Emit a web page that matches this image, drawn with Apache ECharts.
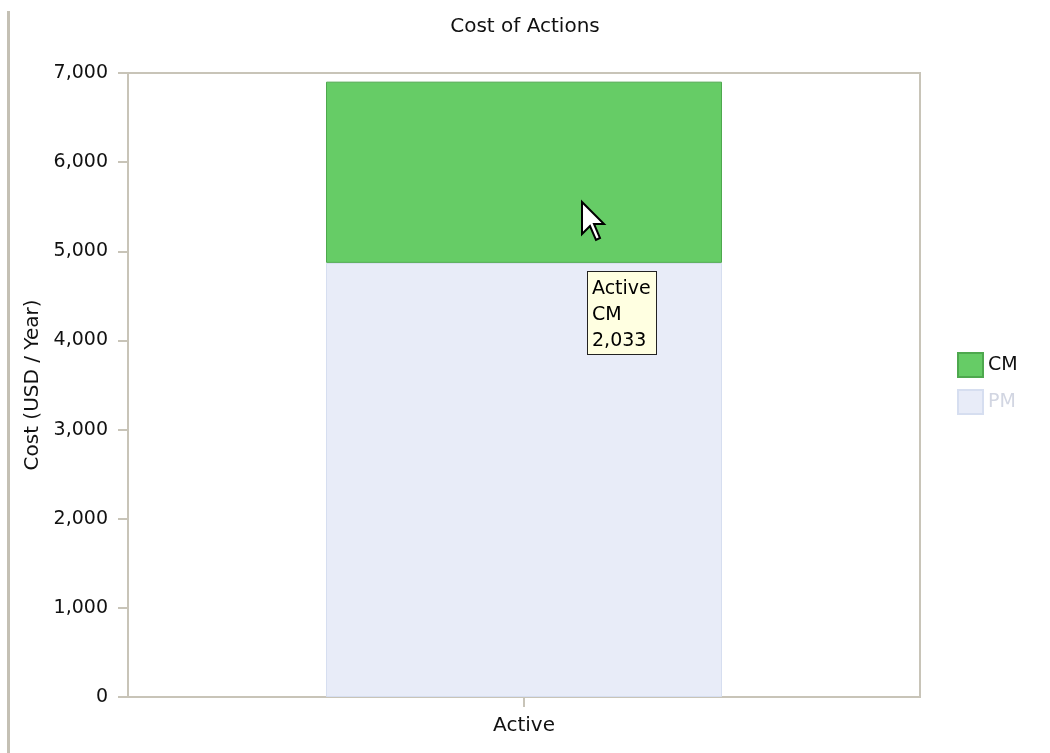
<!DOCTYPE html>
<html>
<head>
<meta charset="utf-8">
<script src="https://cdn.jsdelivr.net/npm/echarts@6/dist/echarts.min.js"></script>
<style>
  html, body { margin: 0; padding: 0; background: #fff; }
  #chart { width: 1050px; height: 753px; }
</style>
</head>
<body>
<div id="chart"></div>
<script>
// Cost of actions, stacked by maintenance type
const categories = ['Active'];
const pmValues = [4870];
const cmValues = [2033];
const yTicks = { min: 0, max: 7000, interval: 1000 };

const FONT = 'DejaVu Sans';
const AXIS_COLOR = '#c8c4b8';

const chart = echarts.init(document.getElementById('chart'), null, { renderer: 'canvas' });

const fmt = v => Number(v).toLocaleString('en-US');

chart.setOption({
  animation: false,
  backgroundColor: '#fff',
  title: {
    text: 'Cost of Actions',
    left: 'center',
    top: 12,
    textStyle: { fontFamily: FONT, fontSize: 20, fontWeight: 'normal', color: '#111' }
  },
  grid: {
    left: 128, right: 130, top: 73, bottom: 56,
    show: true, borderColor: AXIS_COLOR, borderWidth: 2, backgroundColor: '#fff'
  },
  legend: {
    orient: 'vertical',
    left: 952, top: 347,
    itemWidth: 25, itemHeight: 24, itemGap: 11,
    icon: 'rect',
    data: [
      { name: 'CM', textStyle: { color: '#111' } },
      { name: 'PM', textStyle: { color: '#d2d6e2' } }
    ],
    textStyle: { fontFamily: FONT, fontSize: 19 },
    selectedMode: false
  },
  tooltip: {
    trigger: 'item',
    triggerOn: 'none',
    alwaysShowContent: true,
    transitionDuration: 0,
    position: [587, 271],
    backgroundColor: '#ffffe1',
    borderColor: '#222',
    borderWidth: 1,
    borderRadius: 0,
    padding: [2, 5, 2, 4],
    extraCssText: 'box-shadow:none;border-radius:0;line-height:26px;',
    textStyle: { fontFamily: FONT, fontSize: 19, color: '#000' },
    formatter: p => p.name + '<br/>' + p.seriesName + '<br/>' + fmt(p.value)
  },
  xAxis: {
    type: 'category',
    data: categories,
    axisLine: { show: true, lineStyle: { color: AXIS_COLOR, width: 2 } },
    axisTick: { show: true, alignWithLabel: true, length: 10, lineStyle: { color: AXIS_COLOR, width: 2 } },
    axisLabel: { fontFamily: FONT, fontSize: 20, color: '#111', margin: 19 }
  },
  yAxis: {
    type: 'value',
    min: yTicks.min, max: yTicks.max, interval: yTicks.interval,
    name: 'Cost (USD / Year)',
    nameLocation: 'middle',
    nameGap: 84,
    nameTextStyle: { fontFamily: FONT, fontSize: 20, color: '#111' },
    axisLine: { show: true, lineStyle: { color: AXIS_COLOR, width: 2 } },
    axisTick: { show: true, length: 10, lineStyle: { color: AXIS_COLOR, width: 2 } },
    splitLine: { show: false },
    axisLabel: { fontFamily: FONT, fontSize: 19, color: '#111', margin: 20, formatter: fmt }
  },
  series: [
    {
      name: 'PM', type: 'bar', stack: 'cost', barWidth: '50%',
      data: pmValues,
      itemStyle: { color: '#e8ecf8', borderColor: '#d6def0', borderWidth: 1 }
    },
    {
      name: 'CM', type: 'bar', stack: 'cost', barWidth: '50%',
      data: cmValues,
      itemStyle: { color: '#66cc66', borderColor: '#4ea84e', borderWidth: 1 }
    }
  ],
  graphic: [
    // frame line on the left edge
    { type: 'rect', shape: { x: 7, y: 11, width: 3, height: 742 }, style: { fill: '#c4c0b4' }, silent: true },
    // mouse pointer over the CM segment
    {
      type: 'polygon', z: 100, silent: true,
      x: 582, y: 202,
      shape: { points: [[0, 0], [0, 32], [8, 24], [14, 38], [18, 36], [12, 22], [22, 22]] },
      style: { fill: '#fff', stroke: '#000', lineWidth: 2, lineJoin: 'miter' }
    }
  ]
});

chart.dispatchAction({ type: 'showTip', seriesIndex: 1, dataIndex: 0 });
</script>
</body>
</html>
